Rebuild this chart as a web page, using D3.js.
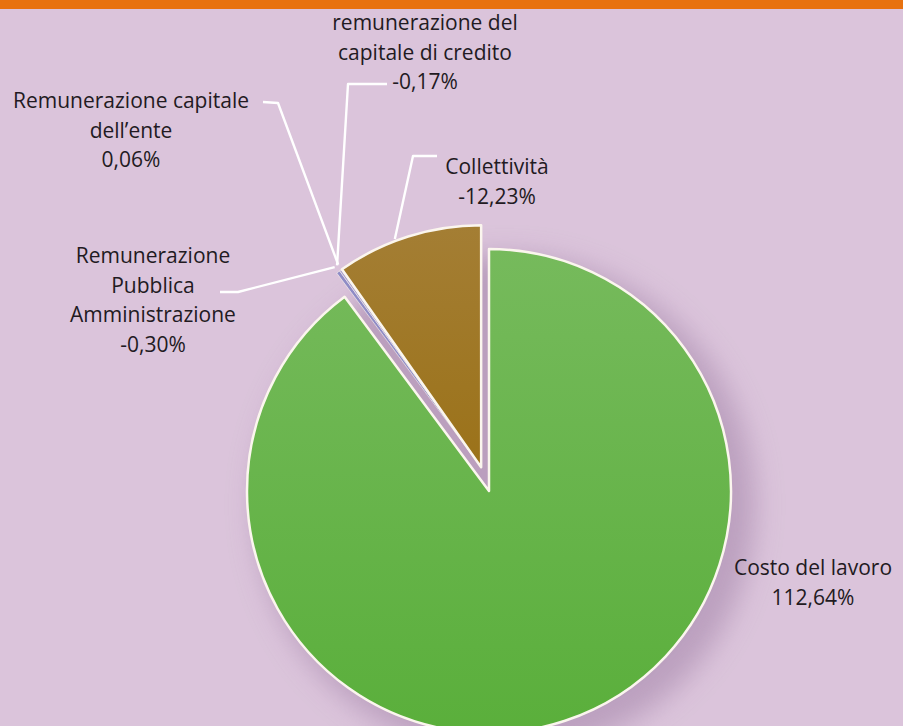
<!DOCTYPE html>
<html>
<head>
<meta charset="utf-8">
<script src="https://cdn.jsdelivr.net/npm/d3@7"></script>
<style>
  html, body { margin: 0; padding: 0; background: #dbc4db; }
  svg { display: block; }
  text { font-family: "Open Sans", "Noto Sans", sans-serif; fill: #221a22; }
</style>
</head>
<body>
<svg id="chart" width="903" height="726"></svg>
<script>
// ---- data ----
const categories = [
  "Costo del lavoro",
  "Remunerazione Pubblica Amministrazione",
  "remunerazione del capitale di credito",
  "Remunerazione capitale dell’ente",
  "Collettività"
];
const values = [112.64, -0.30, -0.17, 0.06, -12.23];
// label text lines (category name split as in the original)
const labelLines = [
  ["Costo del lavoro"],
  ["Remunerazione", "Pubblica", "Amministrazione"],
  ["remunerazione del", "capitale di credito"],
  ["Remunerazione capitale", "dell’ente"],
  ["Collettività"]
];

// ---- layout / style (kept out of data) ----
const W = 903, H = 726;
const cx = 489, cy = 491, R = 242;
const explode = 25;
const colors = ["url(#gGreen)", "#8f8cc6", "#a9a0cf", "#c7b3d6", "url(#gBrown)"];
const labelLayout = [
  { x: 813, y: 568, leader: null },
  { x: 153, y: 256, leader: [[220, 292], [238, 292]], frac: 0.5 },
  { x: 425, y: 23,  leader: [[387, 84], [348, 84]], frac: 0.5 },
  { x: 131, y: 101, leader: [[263, 102], [278, 103]], frac: 0.5 },
  { x: 497, y: 167, leader: [[437, 156], [413, 156]], frac: 0.41 }
];
const lineH = 29.5;

const fmt0 = d3.formatLocale({ decimal: ",", thousands: ".", grouping: [3], currency: ["", "€"], minus: "-" }).format(".2f");
const fmt = v => fmt0(v).replace("\u2212", "-");

const svg = d3.select("#chart");
const defs = svg.append("defs");
const gg = defs.append("linearGradient").attr("id", "gGreen").attr("x1", 0).attr("y1", 0).attr("x2", 0).attr("y2", 1);
gg.append("stop").attr("offset", "0%").attr("stop-color", "#76ba5c");
gg.append("stop").attr("offset", "100%").attr("stop-color", "#5aaf3b");
const gb = defs.append("linearGradient").attr("id", "gBrown").attr("x1", 0).attr("y1", 0).attr("x2", 0).attr("y2", 1);
gb.append("stop").attr("offset", "0%").attr("stop-color", "#a47e34");
gb.append("stop").attr("offset", "100%").attr("stop-color", "#9b7219");
const f = defs.append("filter").attr("id", "shadow").attr("x", "-30%").attr("y", "-30%").attr("width", "160%").attr("height", "160%");
f.append("feGaussianBlur").attr("stdDeviation", 14);

// background + top band
svg.append("rect").attr("width", W).attr("height", H).attr("fill", "#dbc4db");
svg.append("rect").attr("width", W).attr("height", 9).attr("fill", "#e8720f");

const pie = d3.pie().sort(null).value(d => Math.abs(d.v));
const data = categories.map((c, i) => ({ c, v: values[i], i }));
const arcs = pie(data);
const arc = d3.arc().innerRadius(0).outerRadius(R);

// explode offset: all minor slices moved together along the bisector of their combined span
const minorStart = arcs[1].startAngle, minorEnd = arcs[arcs.length - 1].endAngle;
const mid = (minorStart + minorEnd) / 2;
const off = [Math.sin(mid) * explode, -Math.cos(mid) * explode];

// shadow
svg.append("circle").attr("cx", cx + 16).attr("cy", cy + 14).attr("r", R + 8)
  .attr("fill", "#b497b8").attr("opacity", 0.8).attr("filter", "url(#shadow)");

const g = svg.append("g").attr("transform", `translate(${cx},${cy})`);
g.selectAll("path.slice").data(arcs).join("path")
  .attr("class", "slice")
  .attr("d", arc)
  .attr("transform", d => d.index === 0 ? null : `translate(${off[0]},${off[1]})`)
  .attr("fill", d => colors[d.index])
  .attr("stroke", "#fbf6ee")
  .attr("stroke-width", d => d.index === 0 || d.index === 4 ? 2.5 : 0.6)
  .attr("stroke-linejoin", "round");

// leaders
arcs.forEach(d => {
  const L = labelLayout[d.index];
  if (!L.leader) return;
  const a = d.startAngle + (d.endAngle - d.startAngle) * L.frac;
  const rr = d.index === 4 ? R + 2 : R + 6;
  const p = [cx + off[0] + Math.sin(a) * rr, cy + off[1] - Math.cos(a) * rr];
  svg.append("path")
    .attr("d", d3.line()([...L.leader, p]))
    .attr("fill", "none").attr("stroke", "#ffffff").attr("stroke-width", 2.4)
    .attr("stroke-linejoin", "round");
});

// labels
arcs.forEach(d => {
  const L = labelLayout[d.index];
  const lines = [...labelLines[d.index], fmt(d.data.v) + "%"];
  const t = svg.append("text").attr("text-anchor", "middle").attr("font-size", 21);
  lines.forEach((s, k) => {
    t.append("tspan").attr("x", L.x).attr("y", L.y + k * lineH).attr("dy", "0.35em").text(s);
  });
});
</script>
</body>
</html>
